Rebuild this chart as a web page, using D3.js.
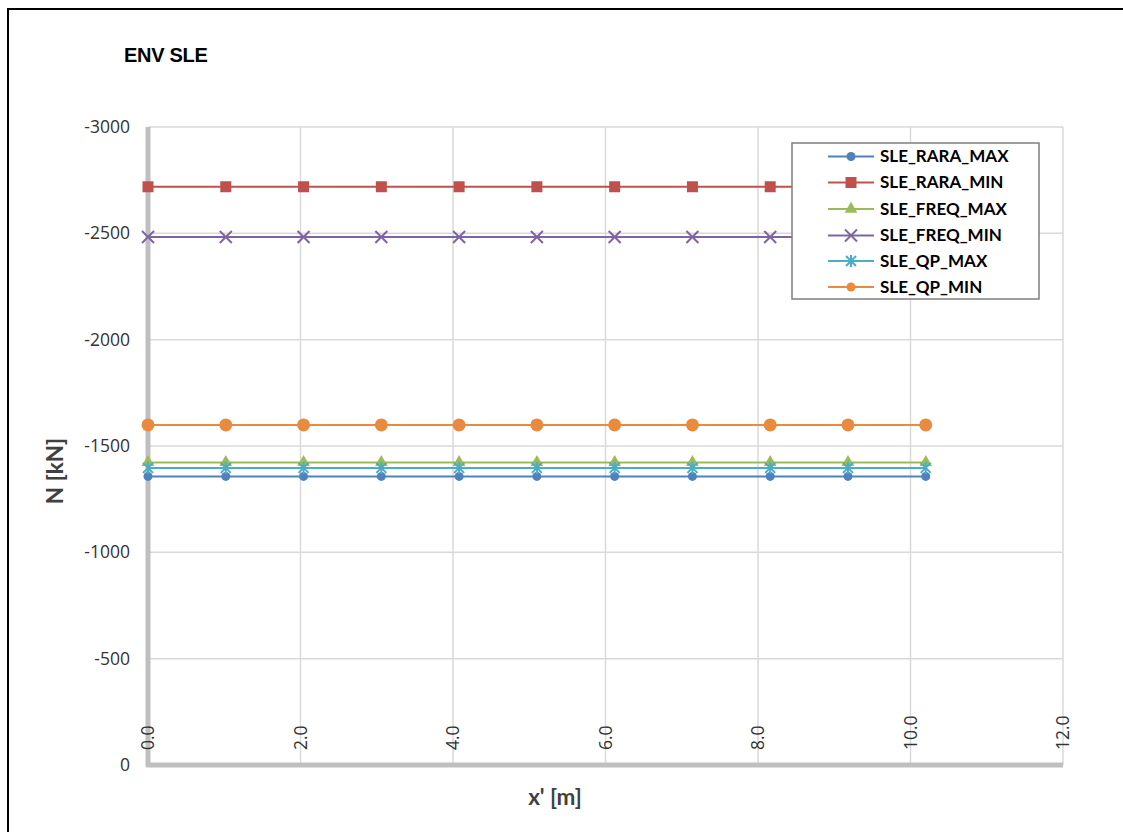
<!DOCTYPE html>
<html><head><meta charset="utf-8">
<script src="https://cdn.jsdelivr.net/npm/d3@7"></script>
<style>body{margin:0;background:#fff}svg{display:block}</style>
</head><body>
<svg id="c" width="1123" height="832"></svg>
<script>
const xValues = [0, 1.02, 2.04, 3.06, 4.08, 5.1, 6.12, 7.14, 8.16, 9.18, 10.2];
const seriesNames = ["SLE_RARA_MAX","SLE_RARA_MIN","SLE_FREQ_MAX","SLE_FREQ_MIN","SLE_QP_MAX","SLE_QP_MIN"];
const rara_max = [-1357,-1357,-1357,-1357,-1357,-1357,-1357,-1357,-1357,-1357,-1357];
const rara_min = [-2719,-2719,-2719,-2719,-2719,-2719,-2719,-2719,-2719,-2719,-2719];
const freq_max = [-1423,-1423,-1423,-1423,-1423,-1423,-1423,-1423,-1423,-1423,-1423];
const freq_min = [-2483,-2483,-2483,-2483,-2483,-2483,-2483,-2483,-2483,-2483,-2483];
const qp_max   = [-1397,-1397,-1397,-1397,-1397,-1397,-1397,-1397,-1397,-1397,-1397];
const qp_min   = [-1599,-1599,-1599,-1599,-1599,-1599,-1599,-1599,-1599,-1599,-1599];
const xTicks = [0,2,4,6,8,10,12];
const yTicks = [0,-500,-1000,-1500,-2000,-2500,-3000];
const colors = ["#4f81bd","#c0504d","#9bbb59","#8064a2","#4bacc6","#ea8a3e"];
const markers = ["circle","square","triangle","x","star","bigcircle"];
const seriesVals = [rara_max, rara_min, freq_max, freq_min, qp_max, qp_min];

const svg = d3.select("#c");
svg.append("rect").attr("x",8).attr("y",9).attr("width",1130).attr("height",840)
  .attr("fill","none").attr("stroke","#000").attr("stroke-width",2);

const L=148, R=1063, T=127, B=765;
const x = d3.scaleLinear().domain([0,12]).range([L,R]);
const y = d3.scaleLinear().domain([0,-3000]).range([B,T]);

svg.append("g").selectAll("line").data(xTicks).join("line")
  .attr("x1",d=>x(d)).attr("x2",d=>x(d)).attr("y1",T).attr("y2",B)
  .attr("stroke","#d9d9d9").attr("stroke-width",1.5);
svg.append("g").selectAll("line").data(yTicks).join("line")
  .attr("x1",L).attr("x2",R).attr("y1",d=>y(d)).attr("y2",d=>y(d))
  .attr("stroke","#d9d9d9").attr("stroke-width",1.5);

svg.append("line").attr("x1",L).attr("x2",L).attr("y1",T).attr("y2",B+2)
  .attr("stroke","#bfbfbf").attr("stroke-width",5);
svg.append("line").attr("x1",L-2).attr("x2",R).attr("y1",B).attr("y2",B)
  .attr("stroke","#bfbfbf").attr("stroke-width",5);

svg.append("g").selectAll("text").data(yTicks).join("text")
  .attr("x",130).attr("y",d=>y(d)).attr("dy","0.35em").attr("text-anchor","end")
  .attr("font-family","Open Sans, sans-serif").attr("font-size",17.5).attr("fill","#333")
  .text(d=>String(d));
svg.append("g").selectAll("text").data(xTicks).join("text")
  .attr("transform",d=>`translate(${x(d)},750) rotate(-90)`)
  .attr("dy","0.35em").attr("text-anchor","start")
  .attr("font-family","Open Sans, sans-serif").attr("font-size",17.5).attr("fill","#333")
  .text(d=>d.toFixed(1));

svg.append("text").attr("x",124).attr("y",62).attr("font-family","Liberation Sans, Arial, sans-serif")
  .attr("font-weight","bold").attr("font-size",20).attr("letter-spacing","-0.3").text("ENV SLE");
svg.append("text").attr("transform","translate(63,471) rotate(-90)").attr("text-anchor","middle")
  .attr("font-family","Lato, sans-serif").attr("font-weight","bold").attr("font-size",22.5).attr("fill","#404040")
  .text("N [kN]");
svg.append("text").attr("x",555).attr("y",805).attr("text-anchor","middle")
  .attr("font-family","Lato, sans-serif").attr("font-weight","bold").attr("font-size",22.5).attr("fill","#404040")
  .text("x' [m]");

function drawMarker(g, type, color){
  switch(type){
    case "circle": g.append("circle").attr("r",4.5).attr("fill",color); break;
    case "bigcircle": g.append("circle").attr("r",6.5).attr("fill",color); break;
    case "square": g.append("rect").attr("x",-5.5).attr("y",-5.5).attr("width",11).attr("height",11).attr("fill",color); break;
    case "triangle": g.append("path").attr("d",d3.symbol(d3.symbolTriangle,70)()).attr("fill",color); break;
    case "x": g.append("path").attr("d","M-6,-6L6,6M-6,6L6,-6").attr("stroke",color).attr("stroke-width",2).attr("fill","none"); break;
    case "star": g.append("path").attr("d","M-5,-5L5,5M-5,5L5,-5M0,-6L0,6").attr("stroke",color).attr("stroke-width",2).attr("fill","none"); break;
  }
}

const line = d3.line().x(d=>x(d[0])).y(d=>y(d[1]));
seriesVals.forEach((vals,i)=>{
  const pts = xValues.map((xv,j)=>[xv, vals[j]]);
  const g = svg.append("g");
  g.append("path").attr("d",line(pts)).attr("fill","none").attr("stroke",colors[i]).attr("stroke-width",2);
  g.selectAll("g").data(pts).join("g").attr("transform",d=>`translate(${x(d[0])},${y(d[1])})`)
    .each(function(){ drawMarker(d3.select(this), markers[i], colors[i]); });
});

const lg = svg.append("g");
lg.append("rect").attr("x",792).attr("y",143).attr("width",247).attr("height",156)
  .attr("fill","#fff").attr("stroke","#7f7f7f").attr("stroke-width",1.5);
const rowY = [156.5,182.5,209,235.5,261,287];
seriesNames.forEach((n,i)=>{
  const r = lg.append("g").attr("transform",`translate(0,${rowY[i]})`);
  r.append("line").attr("x1",828).attr("x2",874).attr("y1",0).attr("y2",0).attr("stroke",colors[i]).attr("stroke-width",2);
  const m = r.append("g").attr("transform","translate(851,0)");
  drawMarker(m, markers[i]==="bigcircle"?"circle":markers[i], colors[i]);
  r.append("text").attr("x",880).attr("y",0).attr("dy","0.35em")
    .attr("font-family","Lato, sans-serif").attr("font-weight","bold").attr("font-size",17).attr("fill","#000").text(n);
});
</script>
</body></html>
